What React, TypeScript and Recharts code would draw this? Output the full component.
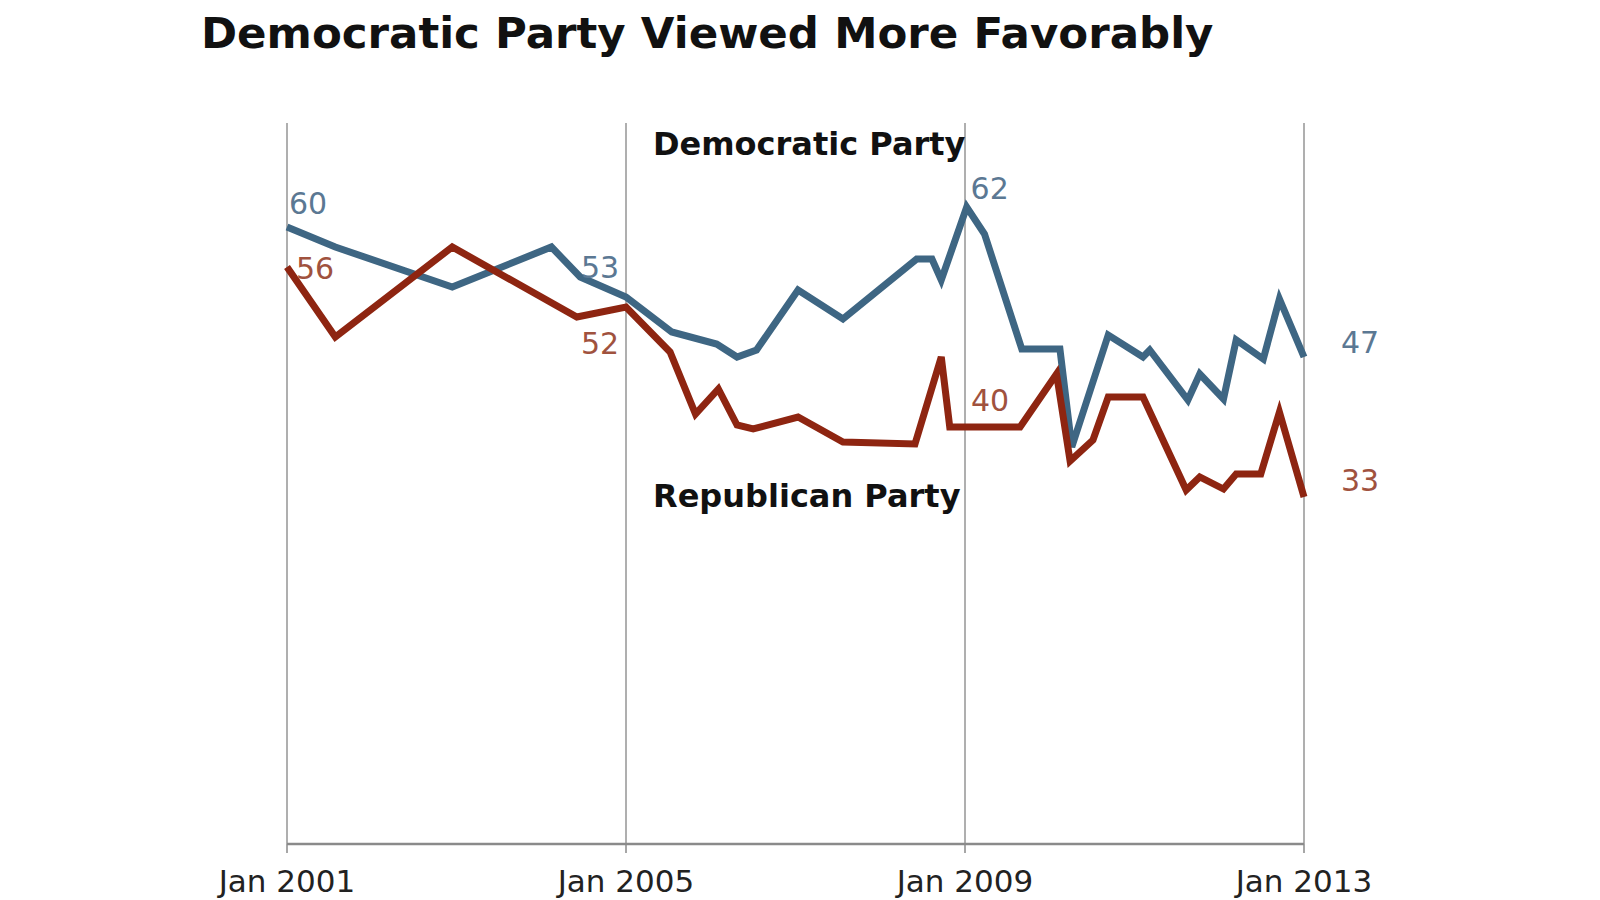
import { CartesianGrid, Line, LineChart, XAxis, YAxis } from "recharts";

// Gallup favourability, fractional year of each poll -> % favourable
const demDates = [
  2001.0, 2001.57, 2002.95, 2004.12, 2004.46, 2005.0, 2005.54, 2006.07, 2006.31, 2006.54,
  2007.03, 2007.56, 2008.43, 2008.61, 2008.72, 2009.02, 2009.23, 2009.67, 2010.12, 2010.26,
  2010.69, 2011.1, 2011.18, 2011.63, 2011.77, 2012.05, 2012.2, 2012.52, 2012.71, 2013.0,
];
const demValues = [
  60, 58, 54, 58, 55, 53, 49.5, 48.3, 47, 47.7,
  53.7, 50.8, 56.8, 56.8, 54.7, 62, 59.3, 47.8, 47.8, 38,
  49.2, 47, 47.7, 42.7, 45.3, 42.8, 48.7, 46.8, 52.8, 47,
];
const repDates = [
  2001.0, 2001.57, 2002.95, 2004.42, 2005.0, 2005.52, 2005.82, 2006.09, 2006.31, 2006.5,
  2007.03, 2007.56, 2008.41, 2008.72, 2008.82, 2009.0, 2009.65, 2010.08, 2010.24, 2010.51,
  2010.69, 2011.1, 2011.61, 2011.77, 2012.05, 2012.2, 2012.49, 2012.71, 2013.0,
];
const repValues = [
  56, 49, 58, 51, 52, 47.5, 41.3, 43.8, 40.2, 39.8,
  41, 38.5, 38.3, 47, 40, 40, 40, 45.3, 36.6, 38.7,
  43, 43, 33.7, 35, 33.8, 35.3, 35.3, 41.5, 33,
];
// points whose value is printed next to the line
const demLabelled = [0, 5, 15, 29];
const repLabelled = [0, 4, 15, 28];
const yearTicks = [2001, 2005, 2009, 2013];

const demData = demDates.map((date, i) => ({ date, value: demValues[i] }));
const repData = repDates.map((date, i) => ({ date, value: repValues[i] }));

const BLUE = "#3e6683";
const RED = "#8e2511";
const FONT = "'DejaVu Sans', Verdana, sans-serif";

// label placement (offset from point) for each labelled point, in order
const demOffsets = [[21, -24], [-26, -30], [23, -19], [56, -15]];
const repOffsets = [[28, 1], [-26, 36], [25, -27], [56, -17]];

function pointLabel(labelled: number[], offsets: number[][], color: string) {
  return (props: any) => {
    const k = labelled.indexOf(props.index);
    if (k < 0) return null;
    const [dx, dy] = offsets[k];
    return (
      <text
        key={`l-${props.index}`}
        x={props.x + dx}
        y={props.y + dy}
        textAnchor="middle"
        dominantBaseline="central"
        fontFamily={FONT}
        fontSize={30}
        fill={color}
      >
        {Math.round(Number(props.value))}
      </text>
    );
  };
}

export default function App() {
  return (
    <div style={{ position: "fixed", left: 0, top: 0, width: 1600, height: 900, background: "#fff" }}>
      <div
        style={{
          position: "absolute",
          left: 201,
          top: 8,
          fontFamily: FONT,
          fontWeight: "bold",
          fontSize: 43.5,
          color: "#111",
          whiteSpace: "nowrap",
        }}
      >
        Democratic Party Viewed More Favorably
      </div>

      <LineChart width={1600} height={900} margin={{ top: 123, right: 296, bottom: 0, left: 287 }}>
        <CartesianGrid horizontal={false} stroke="#959595" strokeWidth={1.5} />
        <XAxis
          dataKey="date"
          type="number"
          domain={[2001, 2013]}
          ticks={yearTicks}
          height={56}
          tickFormatter={(v) => `Jan ${v}`}
          axisLine={{ stroke: "#8a8a8a", strokeWidth: 2.5 }}
          tickLine={{ stroke: "#8a8a8a", strokeWidth: 1.5 }}
          tickSize={9}
          tickMargin={17}
          tick={{ fill: "#222", fontSize: 31, fontFamily: FONT }}
          interval={0}
        />
        <YAxis hide type="number" domain={[-1.7, 70.4]} allowDataOverflow />
        <Line
          data={demData}
          dataKey="value"
          stroke={BLUE}
          strokeWidth={7}
          dot={false}
          activeDot={false}
          isAnimationActive={false}
          label={pointLabel(demLabelled, demOffsets, "#5b7893")}
        />
        <Line
          data={repData}
          dataKey="value"
          stroke={RED}
          strokeWidth={7}
          dot={false}
          activeDot={false}
          isAnimationActive={false}
          label={pointLabel(repLabelled, repOffsets, "#a0523e")}
        />
      </LineChart>

      <div style={{ position: "absolute", left: 653, top: 125, fontFamily: FONT, fontWeight: "bold", fontSize: 32, color: "#111" }}>
        Democratic Party
      </div>
      <div style={{ position: "absolute", left: 653, top: 477, fontFamily: FONT, fontWeight: "bold", fontSize: 32, color: "#111" }}>
        Republican Party
      </div>
    </div>
  );
}
